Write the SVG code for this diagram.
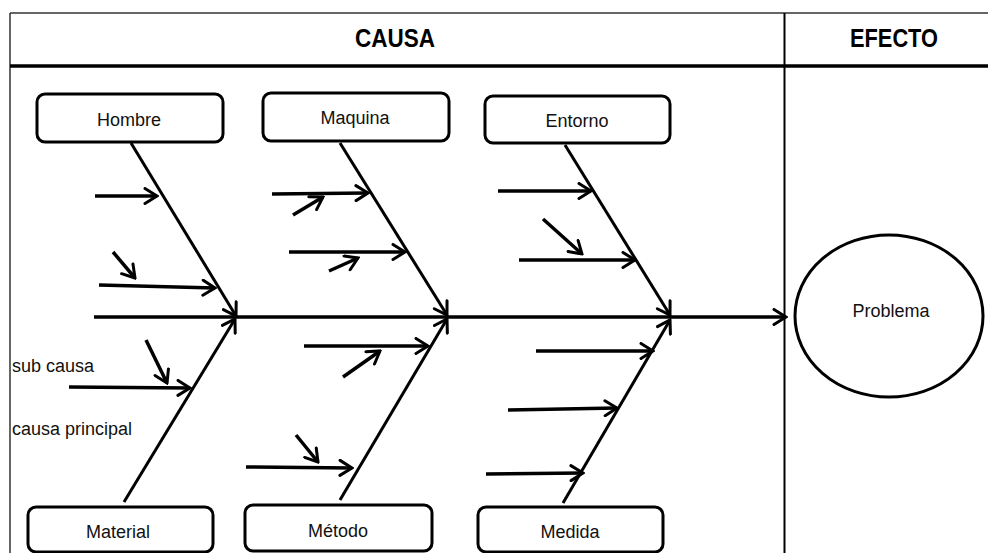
<svg xmlns="http://www.w3.org/2000/svg" width="988" height="553" viewBox="0 0 988 553">
  <defs>
    <marker id="arrow" markerUnits="userSpaceOnUse" viewBox="0 0 16 18" refX="14" refY="9" markerWidth="16" markerHeight="18" orient="auto">
      <path d="M2,1.5 L14,9 L2,16.5" fill="none" stroke="#000" stroke-width="3" stroke-linecap="round" stroke-linejoin="miter"/>
    </marker>
    <style>
      .grid { stroke: #333; stroke-width: 1.5; fill: none; }
      .head { font-family: "Liberation Sans", Arial, sans-serif; font-weight: bold; font-size: 26px; fill: #000; text-anchor: middle; }
      .lbl { font-family: "Liberation Sans", Arial, sans-serif; font-size: 18px; fill: #111; text-anchor: middle; }
      .note { font-family: "Liberation Sans", Arial, sans-serif; font-size: 18px; fill: #111; }
      .box { fill: #fff; stroke: #000; stroke-width: 3; }
      .bone { stroke: #000; stroke-width: 3; fill: none; marker-end: url(#arrow); }
      .sub { stroke: #000; stroke-width: 3.5; fill: none; marker-end: url(#arrow); }
    </style>
  </defs>

  <rect width="988" height="553" fill="#fff"/>

  <!-- table frame -->
  <g id="table">
    <line class="grid" x1="10" y1="13" x2="988" y2="13"/>
    <line class="grid" x1="10" y1="13" x2="10" y2="553"/>
    <line x1="784.5" y1="13" x2="784.5" y2="553" stroke="#000" stroke-width="2"/>
    <line x1="10" y1="66" x2="988" y2="66" stroke="#000" stroke-width="3.5"/>
    <text class="head" x="395" y="47" textLength="80" lengthAdjust="spacingAndGlyphs">CAUSA</text>
    <text class="head" x="894" y="47" textLength="88" lengthAdjust="spacingAndGlyphs">EFECTO</text>
  </g>

  <!-- connectors: spine, main bones and sub-cause arrows -->
  <g id="connectors">
    <line class="sub" x1="94" y1="317" x2="786" y2="317"/>

    <line class="bone" x1="131" y1="143" x2="236" y2="316"/>
    <line class="bone" x1="340" y1="143" x2="447" y2="315"/>
    <line class="bone" x1="565" y1="145" x2="670" y2="315"/>
    <line class="bone" x1="124" y1="502" x2="235" y2="319"/>
    <line class="bone" x1="340" y1="500" x2="447" y2="319"/>
    <line class="bone" x1="563" y1="503" x2="670" y2="320"/>

    <!-- Hombre -->
    <line class="sub" x1="95" y1="196" x2="157" y2="196"/>
    <line class="sub" x1="99" y1="285" x2="215" y2="288"/>
    <line class="sub" x1="113" y1="252" x2="135" y2="278"/>
    <!-- Maquina -->
    <line class="sub" x1="272" y1="194" x2="368" y2="193"/>
    <line class="sub" x1="293" y1="215" x2="323" y2="197"/>
    <line class="sub" x1="289" y1="252" x2="405" y2="252"/>
    <line class="sub" x1="329" y1="271" x2="358" y2="258"/>
    <!-- Entorno -->
    <line class="sub" x1="498" y1="191" x2="591" y2="191"/>
    <line class="sub" x1="543" y1="219" x2="582" y2="254"/>
    <line class="sub" x1="519" y1="260" x2="635" y2="260"/>
    <!-- Material -->
    <line class="sub" x1="69" y1="387" x2="190" y2="388"/>
    <line class="sub" x1="146" y1="340" x2="167" y2="383"/>
    <!-- Método -->
    <line class="sub" x1="304" y1="346" x2="428" y2="346"/>
    <line class="sub" x1="343" y1="377" x2="380" y2="351"/>
    <line class="sub" x1="246" y1="467" x2="352" y2="468"/>
    <line class="sub" x1="296" y1="435" x2="318" y2="462"/>
    <!-- Medida -->
    <line class="sub" x1="536" y1="351" x2="653" y2="351"/>
    <line class="sub" x1="508" y1="410" x2="617" y2="408"/>
    <line class="sub" x1="486" y1="474" x2="583" y2="473"/>
  </g>

  <!-- category boxes -->
  <g id="hombre">
    <rect class="box" x="37" y="94" width="186" height="48" rx="8"/>
    <text class="lbl" x="129" y="126">Hombre</text>
  </g>
  <g id="maquina">
    <rect class="box" x="263" y="93" width="186" height="48" rx="8"/>
    <text class="lbl" x="355" y="124">Maquina</text>
  </g>
  <g id="entorno">
    <rect class="box" x="485" y="96" width="185" height="47" rx="8"/>
    <text class="lbl" x="577" y="127">Entorno</text>
  </g>
  <g id="material">
    <rect class="box" x="28" y="507" width="185" height="45" rx="8"/>
    <text class="lbl" x="118" y="538">Material</text>
  </g>
  <g id="metodo">
    <rect class="box" x="245" y="505" width="187" height="46" rx="8"/>
    <text class="lbl" x="338" y="537">Método</text>
  </g>
  <g id="medida">
    <rect class="box" x="478" y="507" width="185" height="45" rx="8"/>
    <text class="lbl" x="570" y="538">Medida</text>
  </g>

  <!-- effect -->
  <g id="problema">
    <ellipse class="box" cx="889" cy="316" rx="94" ry="81"/>
    <text class="lbl" x="891" y="317">Problema</text>
  </g>

  <!-- legend notes -->
  <g id="notes">
    <text class="note" x="12" y="372">sub causa</text>
    <text class="note" x="12" y="435">causa principal</text>
  </g>
</svg>
